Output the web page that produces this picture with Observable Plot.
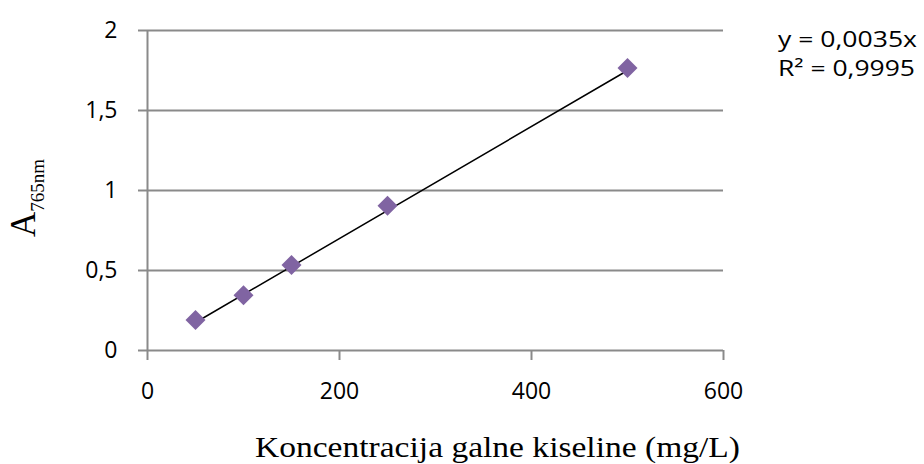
<!DOCTYPE html>
<html>
<head>
<meta charset="utf-8">
<script src="https://cdn.jsdelivr.net/npm/d3@7"></script>
<script src="https://cdn.jsdelivr.net/npm/@observablehq/plot@0.6"></script>
<style>
  html, body { margin: 0; padding: 0; background: #fff; }
  #chart { width: 924px; height: 464px; }
</style>
</head>
<body>
<div id="chart"></div>
<script>
// Data
const concentration = [50, 100, 150, 250, 500];          // mg/L
const absorbance    = [0.19, 0.345, 0.535, 0.905, 1.765]; // A765nm
const trendX = [50, 500];
const trendY = [0.175, 1.75];
const xTicks = [0, 200, 400, 600];
const yTicks = [0, 0.5, 1, 1.5, 2];
const equationLines = ["y = 0,0035x", "R² = 0,9995"];
const xLabel = "Koncentracija galne kiseline (mg/L)";
const yLabelMain = "A";
const yLabelSub = "765nm";

const points = concentration.map((c, i) => ({x: c, y: absorbance[i]}));
const trend = trendX.map((x, i) => ({x, y: trendY[i]}));
const fmt = d => String(d).replace(".", ",");

const gray = "#8a8a8a";
const tickFont = "'Open Sans', sans-serif";
const serif = "'Liberation Serif', 'Times New Roman', serif";

const chart = Plot.plot({
  width: 924,
  height: 464,
  marginLeft: 147,
  marginRight: 201,
  marginTop: 30,
  marginBottom: 114,
  style: {background: "#fff", color: "#000", fontFamily: tickFont, overflow: "visible"},
  x: {domain: [0, 600]},
  y: {domain: [0, 2]},
  marks: [
    Plot.gridY(yTicks.slice(1), {stroke: gray, strokeOpacity: 1, strokeWidth: 2}),
    Plot.ruleY([0], {stroke: gray, strokeWidth: 2}),
    Plot.ruleX([0], {stroke: gray, strokeWidth: 2}),
    Plot.axisY(yTicks, {tickSize: 9, tickPadding: 21, tickFormat: fmt, stroke: gray, strokeWidth: 2, fill: "#000", fontSize: 23, label: null}),
    Plot.axisX(xTicks, {tickSize: 10, tickPadding: 22, tickFormat: fmt, stroke: gray, strokeWidth: 2, fill: "#000", fontSize: 23, label: null}),
    Plot.line(trend, {x: "x", y: "y", stroke: "#000", strokeWidth: 1.5}),
    Plot.dot(points, {x: "x", y: "y", symbol: "diamond2", r: 9, fill: "#8064A2", stroke: "none"})
  ]
});

document.getElementById("chart").appendChild(chart);

const svg = d3.select(chart);

// Trendline equation (outside the plot frame, right side)
svg.selectAll("text.eq")
  .data(equationLines)
  .join("text")
  .attr("class", "eq")
  .attr("x", 778)
  .attr("y", (d, i) => 47 + i * 29)
  .attr("text-anchor", "start")
  .attr("font-family", tickFont)
  .attr("font-size", 21)
  .attr("fill", "#000")
  .attr("textLength", (d, i) => i === 0 ? 139 : 137)
  .attr("lengthAdjust", "spacingAndGlyphs")
  .text(d => d);

// X axis title
svg.append("text")
  .attr("x", 255)
  .attr("y", 457)
  .attr("text-anchor", "start")
  .attr("font-family", serif)
  .attr("font-size", 30)
  .attr("fill", "#000")
  .attr("textLength", 485)
  .attr("lengthAdjust", "spacingAndGlyphs")
  .text(xLabel);

// Rotated y label with subscript
const lab = svg.append("text")
  .attr("transform", "translate(35,237) rotate(-90)")
  .attr("text-anchor", "start")
  .attr("font-family", serif)
  .attr("fill", "#000");
lab.append("tspan").attr("font-size", 35).text(yLabelMain);
lab.append("tspan").attr("font-size", 19).attr("dy", 9).text(yLabelSub);
</script>
</body>
</html>
